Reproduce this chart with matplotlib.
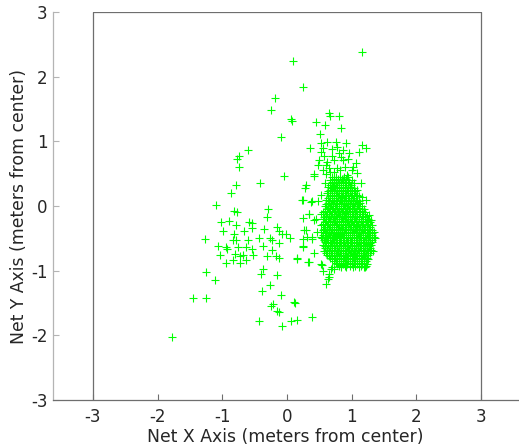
import matplotlib
matplotlib.use("Agg")
import matplotlib.pyplot as plt

# scattered positions away from the main group (x, y in metres)
spread_x = [1.16, 0.10, 0.24, -0.19, -0.24, 0.06, 0.07, -0.10, -0.61, -0.74,
            -0.78, -0.74, -0.05, -0.41, -0.79, -0.87, -1.10, -0.82, -0.77, -0.29,
            -0.31, -1.02, -0.90, -0.59, -0.54, -0.99, -0.82, -0.79, -0.67, -0.54,
            -0.35, -0.16, -0.13, -0.07, -0.02, 0.05, -1.27, -0.83, -0.79, -0.61,
            -0.43, -0.27, -0.23, -1.07, -0.95, -0.93, -0.76, -0.63, -0.54, -0.37,
            -0.23, -0.12, -1.03, -0.81, -0.73, -0.68, -0.53, -0.31, -0.17, -0.12,
            -0.94, -0.83, -0.73, -0.63, 0.16, 0.33, 0.24, 0.24, 0.27, 0.23,
            0.28, 0.29, 0.38, 0.38, 0.34, 0.41, 0.45, -0.37, -0.40, -0.16,
            -1.26, -1.12, -0.26, -0.39, -0.10, 0.12, -1.46, -1.26, -0.22, -0.25,
            -0.16, -0.13, -0.44, -0.08, 0.06, 0.16, 0.38, -1.78, 0.60, 0.63,
            0.65, 0.69, 0.55, 0.54, 0.11]
spread_y = [2.38, 2.25, 1.84, 1.67, 1.49, 1.34, 1.31, 1.06, 0.86, 0.77,
            0.73, 0.60, 0.46, 0.35, 0.32, 0.20, 0.02, -0.07, -0.09, -0.04,
            -0.17, -0.25, -0.23, -0.24, -0.26, -0.38, -0.43, -0.30, -0.39, -0.34,
            -0.35, -0.32, -0.38, -0.43, -0.43, -0.50, -0.51, -0.52, -0.53, -0.53,
            -0.50, -0.49, -0.52, -0.62, -0.64, -0.66, -0.64, -0.64, -0.66, -0.62,
            -0.68, -0.57, -0.76, -0.74, -0.78, -0.76, -0.76, -0.78, -0.78, -0.81,
            -0.88, -0.84, -0.88, -0.84, -0.81, -0.87, -0.63, -0.51, -0.37, 0.09,
            0.28, 0.32, 0.07, -0.51, -0.12, 0.47, -0.20, -0.97, -1.05, -1.06,
            -1.02, -1.15, -1.22, -1.31, -1.38, -1.50, -1.43, -1.43, -1.52, -1.55,
            -1.62, -1.64, -1.78, -1.85, -1.78, -1.77, -1.71, -2.02, -1.20, -1.13,
            -1.05, -0.95, -1.00, -0.92, -1.49]

# fringe of the main group
edge_x = [0.65, 0.67, 0.81, 0.45, 0.58, 0.84, 0.51, 0.35, 0.52, 0.62,
          0.75, 0.91, 1.16, 1.22, 1.12, 0.52, 0.81, 0.96, 0.50, 0.62,
          0.73, 0.87, 1.06, 0.48, 0.60, 0.65, 0.78, 0.89, 1.02, 0.42,
          0.60, 0.73, 0.93, 1.09, 0.58, 0.73, 1.14, 0.52, 0.24, 0.37,
          0.48, 1.16, 1.22, 0.65, 0.34, 0.52, 0.24, 0.42, 1.27, 1.30,
          0.29, 0.47, 0.31, 0.39, 0.24, 0.42, 0.16, 0.34, 0.52, 0.68,
          0.73, 0.83, 1.19, 0.65, 0.55, 0.69, 0.78, 0.86, 0.70, 0.57,
          0.83, 0.95, 0.66, 0.82, 1.00, 0.55]
edge_y = [1.44, 1.39, 1.39, 1.30, 1.25, 1.21, 1.12, 0.89, 0.97, 0.99,
          0.99, 0.97, 0.94, 0.89, 0.84, 0.84, 0.82, 0.82, 0.71, 0.68,
          0.71, 0.71, 0.66, 0.63, 0.63, 0.58, 0.58, 0.60, 0.60, 0.49,
          0.50, 0.53, 0.48, 0.51, 0.35, 0.37, 0.35, 0.17, 0.09, 0.06,
          0.08, 0.14, 0.09, 0.04, -0.12, -0.12, -0.19, -0.22, -0.14, -0.22,
          -0.37, -0.40, -0.48, -0.48, -0.62, -0.73, -0.82, -0.86, -0.90, -0.98,
          -0.97, -0.92, -0.94, -1.10, 0.90, 0.88, 0.92, 0.86, 0.78, 0.77,
          0.76, 0.73, 0.52, 0.55, 0.56, 0.55]

# dense core, one row of x positions per y level
core_levels_a = [0.45, 0.40, 0.35, 0.30, 0.25, 0.20, 0.15, 0.10, 0.05, 0.00,
                 -0.05, -0.10, -0.15, -0.20, -0.25, -0.30, -0.35, -0.40, -0.45, -0.50,
                 -0.55, -0.60, -0.65, -0.70, -0.75, -0.80, -0.85, -0.90, -0.95]
core_rows_a = [
    [0.70, 0.76, 0.82, 0.88, 0.95],
    [0.66, 0.73, 0.79, 0.86, 0.92, 1.00],
    [0.69, 0.75, 0.81, 0.87, 0.94, 1.03],
    [0.64, 0.71, 0.78, 0.84, 0.90, 0.97],
    [0.67, 0.73, 0.80, 0.86, 0.93, 1.01, 1.08],
    [0.62, 0.70, 0.76, 0.83, 0.89, 0.95, 1.04],
    [0.66, 0.72, 0.79, 0.85, 0.92, 0.99, 1.06, 1.12],
    [0.60, 0.69, 0.75, 0.82, 0.88, 0.95, 1.02, 1.09],
    [0.63, 0.71, 0.78, 0.84, 0.91, 0.97, 1.05, 1.13],
    [0.58, 0.67, 0.74, 0.80, 0.87, 0.93, 1.00, 1.08, 1.16],
    [0.62, 0.70, 0.77, 0.83, 0.90, 0.96, 1.03, 1.11, 1.19],
    [0.56, 0.65, 0.72, 0.79, 0.85, 0.92, 0.98, 1.05, 1.13, 1.21],
    [0.60, 0.68, 0.75, 0.81, 0.88, 0.94, 1.01, 1.08, 1.16, 1.24],
    [0.55, 0.63, 0.71, 0.78, 0.84, 0.90, 0.97, 1.04, 1.11, 1.18, 1.26],
    [0.58, 0.66, 0.73, 0.80, 0.86, 0.93, 0.99, 1.06, 1.14, 1.22, 1.29],
    [0.53, 0.62, 0.69, 0.76, 0.83, 0.89, 0.95, 1.02, 1.09, 1.16, 1.24, 1.31],
    [0.57, 0.65, 0.72, 0.79, 0.85, 0.92, 0.98, 1.05, 1.12, 1.19, 1.27],
    [0.52, 0.61, 0.68, 0.75, 0.82, 0.88, 0.94, 1.01, 1.07, 1.14, 1.21, 1.29, 1.34],
    [0.56, 0.64, 0.71, 0.78, 0.84, 0.91, 0.97, 1.04, 1.10, 1.17, 1.24, 1.31],
    [0.54, 0.62, 0.69, 0.76, 0.82, 0.88, 0.95, 1.01, 1.08, 1.15, 1.22, 1.29, 1.36],
    [0.58, 0.66, 0.73, 0.80, 0.86, 0.93, 0.99, 1.06, 1.12, 1.19, 1.26, 1.32],
    [0.55, 0.63, 0.70, 0.77, 0.84, 0.90, 0.97, 1.03, 1.10, 1.17, 1.24, 1.30],
    [0.59, 0.67, 0.74, 0.81, 0.87, 0.94, 1.00, 1.07, 1.14, 1.21, 1.28],
    [0.57, 0.65, 0.72, 0.79, 0.86, 0.92, 0.99, 1.05, 1.12, 1.19, 1.26, 1.33],
    [0.62, 0.70, 0.77, 0.84, 0.90, 0.97, 1.04, 1.11, 1.18, 1.25],
    [0.66, 0.74, 0.81, 0.88, 0.95, 1.02, 1.09, 1.16, 1.23],
    [0.72, 0.80, 0.87, 0.94, 1.01, 1.08, 1.15, 1.22],
    [0.78, 0.86, 0.93, 1.00, 1.08, 1.16, 1.24],
    [0.84, 0.92, 1.02, 1.12, 1.21],
]

# second, offset set of core rows between the first ones
core_levels_b = [0.425, 0.375, 0.325, 0.275, 0.225, 0.175, 0.125, 0.075, 0.025, -0.025,
                 -0.075, -0.125, -0.175, -0.225, -0.275, -0.325, -0.375, -0.425, -0.475,
                 -0.525, -0.575, -0.625, -0.675, -0.725, -0.775, -0.825, -0.875, -0.925]
core_rows_b = [
    [0.73, 0.79, 0.85, 0.91],
    [0.70, 0.76, 0.83, 0.89, 0.96],
    [0.67, 0.72, 0.78, 0.84, 0.91, 0.99],
    [0.68, 0.74, 0.81, 0.87, 0.94, 1.03],
    [0.64, 0.70, 0.77, 0.83, 0.90, 0.97, 1.05],
    [0.67, 0.73, 0.80, 0.86, 0.92, 1.00, 1.09],
    [0.63, 0.70, 0.76, 0.83, 0.89, 0.96, 1.03],
    [0.65, 0.72, 0.78, 0.85, 0.92, 0.99, 1.06, 1.11],
    [0.61, 0.68, 0.75, 0.81, 0.88, 0.94, 1.02, 1.10],
    [0.64, 0.71, 0.77, 0.84, 0.90, 0.97, 1.04, 1.12],
    [0.59, 0.67, 0.74, 0.80, 0.87, 0.93, 1.00, 1.07, 1.16],
    [0.62, 0.69, 0.76, 0.82, 0.89, 0.95, 1.02, 1.09, 1.18],
    [0.57, 0.65, 0.72, 0.78, 0.85, 0.91, 0.98, 1.05, 1.12, 1.21],
    [0.60, 0.67, 0.74, 0.81, 0.87, 0.94, 1.00, 1.07, 1.15, 1.23],
    [0.55, 0.63, 0.70, 0.77, 0.83, 0.90, 0.96, 1.03, 1.10, 1.18, 1.26],
    [0.59, 0.66, 0.73, 0.80, 0.86, 0.92, 0.99, 1.06, 1.13, 1.20, 1.28],
    [0.55, 0.62, 0.69, 0.76, 0.82, 0.89, 0.95, 1.02, 1.09, 1.16, 1.23, 1.31],
    [0.58, 0.65, 0.72, 0.79, 0.85, 0.91, 0.98, 1.04, 1.11, 1.18, 1.25, 1.32],
    [0.53, 0.60, 0.67, 0.74, 0.81, 0.87, 0.94, 1.00, 1.07, 1.13, 1.20, 1.27, 1.34],
    [0.57, 0.64, 0.71, 0.78, 0.84, 0.91, 0.97, 1.04, 1.11, 1.18, 1.25, 1.31],
    [0.60, 0.68, 0.75, 0.82, 0.88, 0.95, 1.01, 1.08, 1.15, 1.22, 1.28],
    [0.58, 0.66, 0.73, 0.80, 0.87, 0.93, 1.00, 1.06, 1.13, 1.20, 1.27],
    [0.62, 0.70, 0.77, 0.83, 0.90, 0.96, 1.03, 1.10, 1.17, 1.24, 1.30],
    [0.60, 0.68, 0.75, 0.82, 0.89, 0.95, 1.02, 1.09, 1.15, 1.22, 1.29],
    [0.65, 0.73, 0.80, 0.87, 0.93, 1.00, 1.07, 1.14, 1.21],
    [0.69, 0.77, 0.84, 0.91, 0.98, 1.05, 1.12, 1.19, 1.26],
    [0.75, 0.83, 0.90, 0.97, 1.04, 1.11, 1.19],
    [0.81, 0.89, 0.97, 1.05, 1.14, 1.22],
]

ticks = [-3, -2, -1, 0, 1, 2, 3]

core_x = [x for row in core_rows_a + core_rows_b for x in row]
core_y = ([lev for lev, row in zip(core_levels_a, core_rows_a) for _ in row]
          + [lev for lev, row in zip(core_levels_b, core_rows_b) for _ in row])

all_x = spread_x + edge_x + core_x
all_y = spread_y + edge_y + core_y

fig = plt.figure(figsize=(5.19, 4.47), dpi=100)
ax = fig.add_axes([53 / 519, 47 / 447, 466 / 519, 388 / 447])

ax.plot(all_x, all_y, '+', color='#00ff00', markersize=5.5, markeredgewidth=0.8)

# plot box drawn around the [-3, 3] square
box_col = '#6e6e6e'
ax.plot([-3, -3, 3, 3], [-3, 3, 3, -3], color=box_col, lw=0.9, zorder=3)

ax.set_xlim(-3 - 40 / 64.67, 3 + 38 / 64.67)
ax.set_ylim(-3, 3)
ax.set_xticks(ticks)
ax.set_yticks(ticks)
ax.set_xticklabels([str(t) for t in ticks])
ax.set_yticklabels([str(t) for t in ticks])

ax.spines['top'].set_visible(False)
ax.spines['right'].set_visible(False)
ax.spines['bottom'].set_color(box_col)
ax.spines['left'].set_color('#b4b4b4')
ax.spines['bottom'].set_linewidth(0.9)
ax.spines['left'].set_linewidth(0.9)

ax.tick_params(axis='x', direction='in', length=4, width=0.8, colors=box_col,
               labelcolor='#262626', labelsize=12, pad=6)
ax.tick_params(axis='y', direction='in', length=4, width=0.8, colors='#b4b4b4',
               labelcolor='#262626', labelsize=12, pad=4)

ax.set_xlabel('Net X Axis (meters from center)', fontsize=12.4, color='#262626')
ax.set_ylabel('Net Y Axis (meters from center)', fontsize=12.4, color='#262626')
ax.yaxis.set_label_coords(-0.053, 0.5)
ax.xaxis.set_label_coords(0.499, -0.072)

fig.savefig('out.png', dpi=100)
